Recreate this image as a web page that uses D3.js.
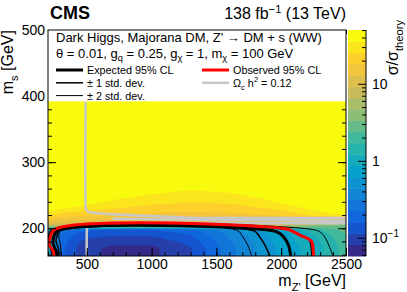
<!DOCTYPE html>
<html>
<head>
<meta charset="utf-8">
<script src="https://cdn.jsdelivr.net/npm/d3@7"></script>
<style>
  body { margin: 0; background: #fff; }
  text { font-family: "Liberation Sans", Arial, Helvetica, sans-serif; fill: #000; }
</style>
</head>
<body>
<div id="my_dataviz"></div>
<script>
// grid of the scan: m_Z' columns, m_s rows
var mzpGrid = [200, 250, 300, 400, 500, 700, 1000, 1300, 1600, 1900, 2100, 2300, 2500];
var msGrid  = [158, 170, 180, 190, 198, 204, 210, 220, 230, 240, 260, 280, 300, 392];

// sigma / sigma_theory, one row per m_s value
var sigmaRatio = [
  [0.9, 0.5, 0.18, 0.12, 0.09, 0.075, 0.075, 0.11, 0.28, 0.55, 0.8, 1.15, 2.0],
  [1.1, 0.6, 0.18, 0.12, 0.09, 0.075, 0.075, 0.11, 0.28, 0.55, 0.8, 1.15, 2.0],
  [0.9, 0.5, 0.2, 0.13, 0.1, 0.09, 0.09, 0.13, 0.3, 0.58, 0.85, 1.2, 2.1],
  [1.0, 0.5, 0.22, 0.16, 0.13, 0.12, 0.12, 0.16, 0.34, 0.62, 0.9, 1.35, 2.4],
  [1.4, 0.7, 0.3, 0.2, 0.17, 0.16, 0.16, 0.2, 0.4, 0.7, 1.0, 1.7, 2.8],
  [6, 7, 7.5, 8, 8, 8, 8, 8, 8, 7.5, 6, 3.5, 3.0],
  [15, 13, 12.5, 12, 12, 12, 12, 11.5, 11.5, 12, 12, 11, 10],
  [27, 24, 22, 20, 19, 18.5, 17, 16, 16.5, 18.5, 22, 28, 36],
  [45, 40, 36, 32, 29, 25.5, 22, 20.5, 21.5, 25.5, 32, 42, 60],
  [70, 60, 55, 48, 42, 33, 28, 26, 27, 33, 42, 60, 90],
  [120, 100, 90, 80, 70, 55, 42, 37, 40, 52, 70, 100, 150],
  [200, 180, 160, 140, 120, 90, 65, 55, 60, 80, 110, 160, 250],
  [300, 300, 300, 300, 300, 300, 300, 300, 300, 300, 300, 300, 300],
  [300, 300, 300, 300, 300, 300, 300, 300, 300, 300, 300, 300, 300]
];

// limit contours, [m_Z', m_s]
var obsLimit = [[246,158],[241,165],[210,175],[215,185],[256,198.5],[2050,198.5],[2100,194],[2150,189],[2200,185],[2235,180],[2245,170],[2250,158]];
var expLimit = [[270,158],[262,166],[240,176],[245,187],[275,196.5],[1930,196.5],[1990,192],[2030,184],[2055,175],[2068,165],[2073,158]];
var exp1Lo = [[285,158],[280,170],[262,180],[272,190],[290,196],[1790,196],[1830,188],[1870,176],[1913,158]];
var exp1Hi = [[230,158],[222,170],[206,180],[212,190],[240,197.5],[2075,197.5],[2125,192],[2180,187],[2218,182],[2232,170],[2236,158]];
var exp2Lo = [[300,158],[296,175],[285,185],[300,196.8],[1660,196.8],[1700,188],[1740,175],[1772,158]];
var exp2Hi = [[202,185],[225,197.8],[2250,197.8],[2310,193],[2345,184],[2372,172],[2400,158]];

// relic density contours (Omega_c h^2 = 0.12)
var relicA = [[490,392],[490,238],[494,229],[510,225],[560,223],[700,221],[1000,218.5],[1300,216],[1800,215.5],[2500,215.5]];
var relicB = [[700,214.5],[1000,213.5],[1500,212.5],[2000,212],[2500,211.5]];
var relicC = [[500,158],[500,196],[505,202],[525,206],[600,208],[1000,208],[1500,207.8],[2500,207.5]];

// colour axis
var zMin = 0.058, zMax = 50, nLevels = 20;
var zMajor = [0.1, 1, 10];

var margin = {top: 30, right: 61, bottom: 36, left: 48},
    width = 407 - margin.left - margin.right,
    height = 292 - margin.top - margin.bottom;

var svg = d3.select("#my_dataviz")
  .append("svg")
    .attr("width", 407)
    .attr("height", 292);

var g = svg.append("g")
    .attr("transform", "translate(" + margin.left + "," + margin.top + ")");

var x = d3.scaleLinear().domain([200, 2500]).range([0, width]);
var y = d3.scaleLinear().domain([158, 500]).range([height, 0]);

// parula (ROOT kBird) palette
var birdStops = ["#352a87","#0f5cdd","#1481d6","#06a4ca","#2eb7a4","#87bf77","#d1bb59","#fec832","#f9fb0e"];
var parula = d3.scaleLinear()
  .domain(birdStops.map(function(d, i) { return i / (birdStops.length - 1); }))
  .range(birdStops)
  .interpolate(d3.interpolateRgb);
function bandColor(k) { return parula(k / (nLevels - 1)); }

var lMin = Math.log10(zMin), step = (Math.log10(zMax) - lMin) / nLevels;

// filled contours
var nx = mzpGrid.length, ny = msGrid.length;
var values = [];
msGrid.forEach(function(m, j) {
  mzpGrid.forEach(function(z, i) {
    values[i + j * nx] = Math.log10(sigmaRatio[j][i]);
  });
});
var gx = d3.scaleLinear().domain(d3.range(nx)).range(mzpGrid).clamp(true);
var gy = d3.scaleLinear().domain(d3.range(ny)).range(msGrid).clamp(true);
var proj = d3.geoTransform({
  point: function(px, py) { this.stream.point(x(gx(px - 0.5)), y(gy(py - 0.5))); }
});
var path = d3.geoPath(proj);
var thresholds = d3.range(1, nLevels).map(function(k) { return lMin + k * step; });
var contours = d3.contours().size([nx, ny]).thresholds(thresholds)(values);

g.append("clipPath").attr("id", "clip")
  .append("rect").attr("width", width).attr("height", height);

var heat = g.append("g").attr("clip-path", "url(#clip)");
heat.append("rect")
  .attr("x", x(200)).attr("y", y(392))
  .attr("width", x(2500) - x(200)).attr("height", y(158) - y(392))
  .attr("fill", bandColor(0));
heat.selectAll("path.band")
  .data(contours)
  .enter().append("path")
    .attr("class", "band")
    .attr("d", path)
    .attr("fill", function(d, i) { return bandColor(i + 1); })
    .attr("stroke", function(d, i) { return bandColor(i + 1); })
    .attr("stroke-width", 0.3);

// lines
var line = d3.line()
  .x(function(d) { return x(d[0]); })
  .y(function(d) { return y(d[1]); })
  .curve(d3.curveCatmullRom.alpha(0.5));

var lines = g.append("g").attr("clip-path", "url(#clip)");
[relicA, relicB, relicC].forEach(function(r) {
  lines.append("path").datum(r)
    .attr("fill", "none").attr("stroke", "#c8c8c8").attr("stroke-width", 2.5)
    .attr("d", line);
});
[[exp2Lo, 1], [exp2Hi, 1], [exp1Lo, 1.5], [exp1Hi, 1.5], [expLimit, 3]].forEach(function(p) {
  lines.append("path").datum(p[0])
    .attr("fill", "none").attr("stroke", "#000").attr("stroke-width", p[1])
    .attr("d", line);
});
lines.append("path").datum(obsLimit)
  .attr("fill", "none").attr("stroke", "#ff0000").attr("stroke-width", 3)
  .attr("d", line);

// axes (ticks inside frame)
function styleAxis(a) {
  a.select(".domain").remove();
  a.selectAll("line").attr("stroke", "#000");
  a.selectAll("text").attr("font-size", 14).attr("fill", "#000");
}
g.append("g").attr("transform", "translate(0," + height + ")")
  .call(d3.axisBottom(x).tickValues(d3.range(200, 2501, 100)).tickSizeInner(-4).tickSizeOuter(0).tickFormat(""))
  .call(styleAxis);
g.append("g").attr("transform", "translate(0," + height + ")")
  .call(d3.axisBottom(x).tickValues([500, 1000, 1500, 2000, 2500]).tickSizeInner(-8).tickSizeOuter(0)
    .tickPadding(3).tickFormat(d3.format("d")))
  .call(styleAxis);
g.append("g")
  .call(d3.axisTop(x).tickValues(d3.range(200, 2501, 100)).tickSizeInner(-4).tickSizeOuter(0).tickFormat(""))
  .call(styleAxis);
g.append("g")
  .call(d3.axisLeft(y).tickValues(d3.range(160, 501, 20)).tickSizeInner(-4).tickSizeOuter(0).tickFormat(""))
  .call(styleAxis);
g.append("g")
  .call(d3.axisLeft(y).tickValues([200, 300, 400, 500]).tickSizeInner(-8).tickSizeOuter(0).tickPadding(3))
  .call(styleAxis);
g.append("g").attr("transform", "translate(" + width + ",0)")
  .call(d3.axisRight(y).tickValues(d3.range(160, 501, 20)).tickSizeInner(-4).tickSizeOuter(0).tickFormat(""))
  .call(styleAxis);
g.append("g").attr("transform", "translate(" + width + ",0)")
  .call(d3.axisRight(y).tickValues([200, 300, 400, 500]).tickSizeInner(-8).tickSizeOuter(0).tickFormat(""))
  .call(styleAxis);

// legend box
var legTop = 0, legBottom = y(392);
g.append("rect")
  .attr("x", 0).attr("y", legTop)
  .attr("width", width).attr("height", legBottom - legTop)
  .attr("fill", "#fff");

// frame
g.append("rect")
  .attr("width", width).attr("height", height)
  .attr("fill", "none").attr("stroke", "#000").attr("stroke-width", 1);

// rich text helper: parts = [text, "n" | "sub" | "sup"]
function rich(sel, parts, size) {
  var shift = 0;
  parts.forEach(function(p) {
    var dy = 0, fs = size;
    if (p[1] === "sub") { dy = size * 0.3; fs = size * 0.7; }
    if (p[1] === "sup") { dy = -size * 0.4; fs = size * 0.7; }
    sel.append("tspan").attr("dy", dy - shift).attr("font-size", fs).text(p[0]);
    shift = dy;
  });
}

var leg = g.append("g").attr("transform", "translate(8,0)");
rich(leg.append("text").attr("x", 0).attr("y", 11.5),
  [["Dark Higgs, Majorana DM, Z' \u2192 DM + s (WW)", "n"]], 13);
rich(leg.append("text").attr("x", 0).attr("y", 27.5),
  [["\u03b8 = 0.01, g", "n"], ["q", "sub"], [" = 0.25, g", "n"], ["\u03c7", "sub"], [" = 1, m", "n"], ["\u03c7", "sub"], [" = 100 GeV", "n"]], 13);

var entries = [
  {col: 0, row: 0, color: "#000", w: 3, parts: [["Expected 95% CL", "n"]]},
  {col: 0, row: 1, color: "#000", w: 1.5, parts: [["\u00b1 1 std. dev.", "n"]]},
  {col: 0, row: 2, color: "#000", w: 1, parts: [["\u00b1 2 std. dev.", "n"]]},
  {col: 1, row: 0, color: "#ff0000", w: 3, parts: [["Observed 95% CL", "n"]]},
  {col: 1, row: 1, color: "#c8c8c8", w: 2.5, parts: [["\u03a9", "n"], ["c", "sub"], [" h", "n"], ["2", "sup"], [" = 0.12", "n"]]}
];
entries.forEach(function(e) {
  var ex = e.col === 0 ? 0 : 146, ey = 40 + e.row * 12.8;
  leg.append("line")
    .attr("x1", ex).attr("x2", ex + 27).attr("y1", ey).attr("y2", ey)
    .attr("stroke", e.color).attr("stroke-width", e.w);
  rich(leg.append("text").attr("x", ex + 31).attr("y", ey + 4), e.parts, 10.8);
});

// colour bar
var zScale = d3.scaleLog().domain([zMin, zMax]).range([height, 0]);
var bar = svg.append("g").attr("transform", "translate(348," + margin.top + ")");
bar.selectAll("rect")
  .data(d3.range(nLevels))
  .enter().append("rect")
    .attr("x", 0).attr("width", 18)
    .attr("y", function(k) { return zScale(Math.pow(10, lMin + (k + 1) * step)); })
    .attr("height", function(k) { return zScale(Math.pow(10, lMin + k * step)) - zScale(Math.pow(10, lMin + (k + 1) * step)) + 0.5; })
    .attr("fill", function(k) { return bandColor(k); });
var zMinor = zScale.ticks().filter(function(v) { return zMajor.indexOf(v) < 0; });
bar.append("g").attr("transform", "translate(18,0)")
  .call(d3.axisRight(zScale).tickValues(zMinor).tickSizeInner(-4).tickSizeOuter(0).tickFormat(""))
  .call(styleAxis);
var zAxis = bar.append("g").attr("transform", "translate(18,0)")
  .call(d3.axisRight(zScale).tickValues(zMajor).tickSizeInner(-8).tickSizeOuter(0).tickPadding(6)
    .tickFormat(function(d) { return d === 0.1 ? "10" : d3.format("d")(d); }))
  .call(styleAxis);
bar.append("line").attr("x1", 18).attr("x2", 18).attr("y1", 0).attr("y2", height).attr("stroke", "#000");
zAxis.selectAll("text").filter(function(d) { return d === 0.1; })
  .append("tspan").attr("dy", -6).attr("font-size", 10).text("\u22121");

// titles
svg.append("text").attr("x", 50).attr("y", 19)
  .attr("font-size", 18).attr("font-weight", "bold").text("CMS");
rich(svg.append("text").attr("x", 346).attr("y", 19).attr("text-anchor", "end"),
  [["138 fb", "n"], ["\u22121", "sup"], [" (13 TeV)", "n"]], 16);
rich(svg.append("text").attr("text-anchor", "end")
    .attr("transform", "translate(13,30) rotate(-90)"),
  [["m", "n"], ["s", "sub"], [" [GeV]", "n"]], 16);
rich(svg.append("text").attr("text-anchor", "end").attr("x", 346).attr("y", 286),
  [["m", "n"], ["Z'", "sub"], [" [GeV]", "n"]], 16);
rich(svg.append("text").attr("text-anchor", "end")
    .attr("transform", "translate(398,20) rotate(-90)"),
  [["\u03c3/\u03c3", "n"], ["theory", "sub"]], 16);
</script>
</body>
</html>
